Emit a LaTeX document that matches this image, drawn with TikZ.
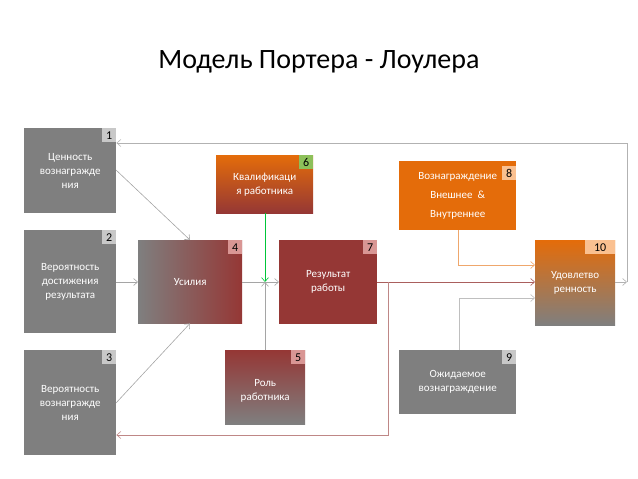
\documentclass[tikz,border=0pt]{standalone}
\usepackage{fontspec}
\setmainfont{Carlito}
\usetikzlibrary{arrows.meta}
\definecolor{bgray}{HTML}{7F7F7F}
\definecolor{dred}{HTML}{953735}
\definecolor{orng}{HTML}{E46C0A}
\definecolor{bgr}{HTML}{C8C8C8}
\definecolor{bpink}{HTML}{D99694}
\definecolor{bgrn}{HTML}{8DC05A}
\definecolor{borg}{HTML}{FAC090}
\tikzset{
 box/.style={minimum width=#1, inner sep=1pt, text=white, font=\fontsize{11}{14}\selectfont, align=center, anchor=north west},
 badge/.style={anchor=north east, minimum width=14pt, minimum height=14pt, inner sep=0pt, font=\fontsize{12}{12}\selectfont, text=black},
 conn/.style={draw=#1, line width=0.6pt, -{Straight Barb[length=4pt,width=7pt]}},
 plain/.style={draw=#1, line width=0.6pt}
}
\begin{document}
\begin{tikzpicture}[x=1pt,y=-1pt]
\useasboundingbox (0,0) rectangle (638,479);
\node[font=\fontsize{28}{30}\selectfont] (title) at (319,62) {Модель Портера - Лоулера};
% boxes
\node[box=92pt, minimum height=85pt, fill=bgray] (b1) at (24,128) {Ценность\\вознагражде\\ния};
\node[box=92pt, minimum height=103pt, fill=bgray] (b2) at (24,230) {Вероятность\\достижения\\результата};
\node[box=92pt, minimum height=105pt, fill=bgray] (b3) at (24,350) {Вероятность\\вознагражде\\ния};
\node[box=104pt, minimum height=83pt, left color=bgray, right color=dred, middle color=bgray!50!dred] (b4) at (138,240) {Усилия};
\node[box=97pt, minimum height=58pt, top color=orng, bottom color=dred] (b6) at (216,155) {Квалификаци\\я работника};
\node[box=98pt, minimum height=84pt, fill=dred] (b7) at (279,240) {Результат\\работы};
\node[box=80pt, minimum height=74pt, top color=dred, bottom color=bgray] (b5) at (225,350) {\\Роль\\работника};
\node[box=117pt, minimum height=69pt, fill=orng, font=\fontsize{11}{19}\selectfont] (b8) at (399,161) {Вознаграждение\\Внешнее \ \&\\Внутреннее};
\node[box=80pt, minimum height=85pt, top color=orng, bottom color=bgray] (b10) at (535,240) {Удовлетво\\ренность};
\node[box=117pt, minimum height=64pt, fill=bgray] (b9) at (399,350) {Ожидаемое\\вознаграждение};
% badges
\node[badge, fill=bgr] (n1) at (b1.north east) {1};
\node[badge, fill=bgr] (n2) at (b2.north east) {2};
\node[badge, fill=bgr] (n3) at (b3.north east) {3};
\node[badge, fill=bpink] (n4) at (b4.north east) {4};
\node[badge, fill=bpink] (n5) at (b5.north east) {5};
\node[badge, fill=bgrn] (n6) at (b6.north east) {6};
\node[badge, fill=bpink] (n7) at (b7.north east) {7};
\node[badge, fill=borg] (n8) at ([yshift=-5pt]b8.north east) {8};
\node[badge, fill=bgr] (n9) at (b9.north east) {9};
\node[badge, fill=borg, minimum width=30pt] (n10) at (b10.north east) {10};
% coordinates
\coordinate (x) at (265,282);
\coordinate (r1) at (388,282);
\coordinate (r2) at (388,435);
\coordinate (o1) at (458,265);
\coordinate (g1) at (459,298);
\coordinate (e1) at (627,282);
\coordinate (e2) at (627,143);
% connectors
\draw[conn=bgray!70] (116,170) -- (b4.north west -| 190,0);
\draw[conn=bgray!70] (b2.east |- 0,282) -- (b4.west |- 0,282);
\draw[conn=bgray!70] (116,403) -- (b4.south west -| 190,0);
\draw[conn=bgray!70] (b4.east |- 0,282) -- (b7.west |- 0,282);
\draw[conn=green!55!teal] (b6.south -| x) -- (x);
\draw[conn=bgray!70] (b5.north -| x) -- (x);
\draw[conn=dred!80] (b7.east |- 0,282) -- (b10.west |- 0,282);
\draw[conn=dred!60] (r1) -- (r2) -- (b3.east |- r2);
\draw[conn=orng!60] (b8.south -| o1) -- (o1) -- (b10.west |- o1);
\draw[conn=bgray!50] (b9.north -| g1) -- (g1) -- (b10.west |- g1);
\draw[conn=bgray!60] (b10.east |- e1) -- (e1);
\draw[conn=bgray!60] (e1) -- (e2) -- (b1.east |- e2);
\end{tikzpicture}
\end{document}
